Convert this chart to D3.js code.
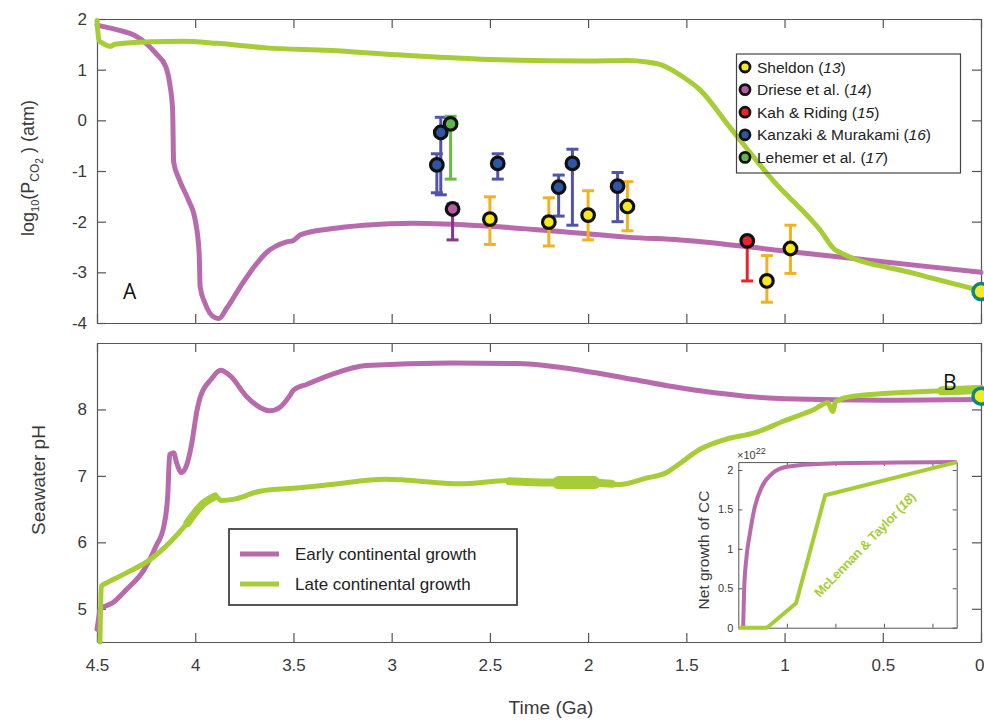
<!DOCTYPE html>
<html>
<head>
<meta charset="utf-8">
<script src="https://cdn.jsdelivr.net/npm/d3@7/dist/d3.min.js"></script>
<style>
  body { margin: 0; background: #fff; }
  svg text { font-family: "Liberation Sans", Arial, sans-serif; }
</style>
</head>
<body>
<svg id="chart" width="984" height="722"></svg>
<script>
// time in Ga, value
const pco2Early = [[4.5,1.88],[4.43,1.82],[4.38,1.77],[4.31,1.68],[4.25,1.52],[4.2,1.32],[4.15,1.06],[4.13,0.73],
  [4.115,0.2],[4.11,-0.82],[4.08,-1.18],[4.035,-1.57],[4.0,-1.97],[3.98,-2.62],[3.975,-3.28],[3.95,-3.61],
  [3.906,-3.88],[3.88,-3.91],[3.84,-3.71],[3.77,-3.28],[3.70,-2.89],[3.64,-2.62],[3.535,-2.40],[3.5,-2.37],
  [3.465,-2.26],[3.31,-2.14],[3.14,-2.07],[2.89,-2.03],[2.5,-2.09],[2.125,-2.2],[1.79,-2.31],[1.53,-2.36],
  [1.0,-2.58],[0.5,-2.79],[0,-3.0]]
const pco2Late = [[4.5,1.97],[4.49,1.58],[4.47,1.52],[4.43,1.46],[4.41,1.5],[4.23,1.55],[4.06,1.56],[3.89,1.52],
  [3.64,1.43],[3.31,1.38],[3.0,1.3],[2.5,1.2],[2.0,1.17],[1.8,1.18],[1.7,1.15],[1.63,1.1],[1.53,0.89],
  [1.43,0.6],[1.28,-0.13],[1.06,-1.18],[0.82,-2.16],[0.74,-2.56],[0.34,-3.02],[0,-3.36]]

const phEarly = [[4.5,4.69],[4.49,4.89],[4.485,4.99],[4.42,5.09],[4.35,5.29],[4.26,5.59],[4.2,5.94],[4.16,6.24],
  [4.14,6.7],[4.13,7.32],[4.11,7.35],[4.095,7.2],[4.07,7.05],[4.045,7.15],[4.02,7.45],[3.99,8.0],[3.975,8.18],
  [3.92,8.45],[3.87,8.59],[3.82,8.5],[3.74,8.2],[3.67,8.03],[3.62,7.98],[3.57,8.03],[3.52,8.2],[3.5,8.29],
  [3.43,8.38],[3.31,8.52],[3.13,8.66],[2.7,8.70],[2.36,8.69],[2.02,8.58],[1.77,8.45],[1.43,8.28],[1.2,8.2],
  [1.0,8.16],[0.5,8.14],[0,8.15]]
const phLate = [[4.485,4.5],[4.478,5.34],[4.45,5.39],[4.35,5.54],[4.23,5.74],[4.15,5.94],[4.04,6.29],[3.96,6.58],
  [3.89,6.68],[3.87,6.63],[3.8,6.65],[3.67,6.77],[3.47,6.82],[3.31,6.87],[3.03,6.95],[2.65,6.88],[2.41,6.93],
  [2.2,6.9],[2.0,6.9],[1.84,6.87],[1.7,6.97],[1.6,7.05],[1.55,7.15],[1.43,7.4],[1.3,7.55],[1.15,7.65],
  [1.0,7.83],[0.85,8.0],[0.78,8.1],[0.755,7.97],[0.74,8.12],[0.65,8.2],[0.2,8.28],[0,8.3]]
// parts of the late pH run where the line spreads into a band
const phLateBand1 = [[4.04,6.29],[3.96,6.58],[3.9,6.69]]
const phLateBand2 = [[2.4,6.92],[2.2,6.9],[2.0,6.9],[1.88,6.88]]
const phLateBand3 = [[2.15,6.9],[2.05,6.9],[1.97,6.9]]
const phLateBand4 = [[0.2,8.28],[0.1,8.29],[0,8.3]]

// proxy data: [time, value, low, high]
const sheldon = [[2.5,-1.95,-2.45,-1.51],[2.2,-2.01,-2.48,-1.53],[2.0,-1.87,-2.36,-1.39],[1.8,-1.70,-2.18,-1.21],
  [1.09,-3.17,-3.59,-2.67],[0.97,-2.53,-3.02,-2.07]]
const driese = [[2.69,-1.75,-2.36,-1.65]]
const kah = [[1.19,-2.38,-3.17,-2.38]]
const kanzaki = [[2.77,-0.88,-1.43,-0.66],[2.75,-0.24,-1.47,0.06],[2.46,-0.85,-1.16,-0.66],[2.15,-1.32,-1.89,-1.08],
  [2.08,-0.85,-2.07,-0.57],[1.85,-1.30,-2.0,-1.03]]
const lehemer = [[2.70,-0.07,-1.16,0.08]]
const presentPco2 = [0, -3.38]
const presentPh = [0, 8.2]

// inset: net growth of continental crust (x1e22)
const ccEarly = [[4.40,0],[4.38,0.48],[4.33,0.9],[4.26,1.2],[4.16,1.53],[4.02,1.78],[3.81,1.95],[3.5,2.04],[2.75,2.08],[0,2.1]]
const ccLate = [[4.5,0],[3.91,0],[3.31,0.31],[2.71,1.68],[0,2.1]]

const timeTicks = [4.5,4,3.5,3,2.5,2,1.5,1,0.5,0]
const pco2Ticks = [-4,-3,-2,-1,0,1,2]
const phTicks = [5,6,7,8]
const ccTicks = [0,0.5,1,1.5,2]

const PURPLE = '#b76aac', GREEN = '#a6cd37', AXIS = '#555', TXT = '#3a3a3a'

const svg = d3.select('#chart')
const x = d3.scaleLinear().domain([4.5, 0]).range([97, 981])
const yTop = d3.scaleLinear().domain([-4, 2]).range([323, 19])
const yBot = d3.scaleLinear().domain([4.5, 9]).range([642, 343])

function frame(y, yTicks, labels) {
  let g = svg.append('g')
  g.append('g').attr('transform', `translate(0,${y.range()[0]})`)
    .call(d3.axisBottom(x).tickValues(timeTicks).tickSize(-9).tickSizeOuter(0).tickPadding(17)
      .tickFormat(labels ? d => String(d) : ''))
  g.append('g').attr('transform', `translate(0,${y.range()[1]})`)
    .call(d3.axisTop(x).tickValues(timeTicks).tickSize(-9).tickSizeOuter(0).tickFormat(''))
  g.append('g').attr('transform', `translate(${x.range()[0]},0)`)
    .call(d3.axisLeft(y).tickValues(yTicks).tickSize(-9).tickSizeOuter(0).tickPadding(10).tickFormat(d => String(d)))
  g.append('g').attr('transform', `translate(${x.range()[1]},0)`)
    .call(d3.axisRight(y).tickValues(yTicks).tickSize(-9).tickSizeOuter(0).tickFormat(''))
  g.selectAll('.domain, .tick line').attr('stroke', AXIS).attr('stroke-width', 1.2)
  g.selectAll('.tick text').attr('fill', TXT).style('font-size', '17px')
  return g
}

frame(yTop, pco2Ticks, false)
let bottomFrame = frame(yBot, phTicks, true)
// keep the last time label inside the page
bottomFrame.selectAll('.tick text').filter(d => d === 0).attr('text-anchor', 'end').attr('dx', 3)

function line(y) {
  return d3.line().x(d => x(d[0])).y(d => y(d[1])).curve(d3.curveMonotoneX)
}
function path(data, y, color, w) {
  svg.append('path').datum(data).attr('d', line(y)).attr('fill', 'none')
    .attr('stroke', color).attr('stroke-width', w).attr('stroke-linejoin', 'round').attr('stroke-linecap', 'round')
}

path(pco2Early, yTop, PURPLE, 5)
path(pco2Late, yTop, GREEN, 5)
path(phEarly, yBot, PURPLE, 5)
path(phLate, yBot, GREEN, 5)
path(phLateBand1, yBot, GREEN, 8)
path(phLateBand2, yBot, GREEN, 8)
path(phLateBand3, yBot, GREEN, 13)
path(phLateBand4, yBot, GREEN, 9)

// error bars + markers
const sources = [
  {name: 'Sheldon', ref: '13', data: sheldon, fill: '#f7ea1a', bar: '#efb221'},
  {name: 'Driese et al.', ref: '14', data: driese, fill: '#b65ba6', bar: '#8a3493'},
  {name: 'Kah & Riding', ref: '15', data: kah, fill: '#e8232b', bar: '#e8232b'},
  {name: 'Kanzaki & Murakami', ref: '16', data: kanzaki, fill: '#2f55a5', bar: '#5255a6'},
  {name: 'Lehemer et al.', ref: '17', data: lehemer, fill: '#5cb848', bar: '#68bd45'}
]
const drawOrder = [sources[0], sources[3], sources[4], sources[1], sources[2]]

drawOrder.forEach(s => {
  let g = svg.append('g')
  s.data.forEach(d => {
    let cx = x(d[0])
    g.append('line').attr('x1', cx).attr('x2', cx).attr('y1', yTop(d[2])).attr('y2', yTop(d[3]))
      .attr('stroke', s.bar).attr('stroke-width', 3)
    ;[d[2], d[3]].forEach(v => {
      g.append('line').attr('x1', cx - 6).attr('x2', cx + 6).attr('y1', yTop(v)).attr('y2', yTop(v))
        .attr('stroke', s.bar).attr('stroke-width', 3)
    })
  })
})
drawOrder.forEach(s => {
  svg.append('g').selectAll('circle').data(s.data).enter().append('circle')
    .attr('cx', d => x(d[0])).attr('cy', d => yTop(d[1])).attr('r', 6.3)
    .attr('fill', s.fill).attr('stroke', '#111').attr('stroke-width', 3.2)
})

// present day markers
;[[presentPco2, yTop], [presentPh, yBot]].forEach(([p, y]) => {
  svg.append('circle').attr('cx', x(p[0])).attr('cy', y(p[1])).attr('r', 8)
    .attr('fill', '#f7ea1a').attr('stroke', '#11857c').attr('stroke-width', 3.5)
})

// legend for proxy data
let lg = svg.append('g')
lg.append('rect').attr('x', 736.5).attr('y', 54).attr('width', 224).attr('height', 119)
  .attr('fill', 'none').attr('stroke', '#444').attr('stroke-width', 1.2)
sources.forEach((s, i) => {
  let yy = 67 + i * 22.6
  lg.append('circle').attr('cx', 745).attr('cy', yy).attr('r', 5).attr('fill', s.fill)
    .attr('stroke', '#111').attr('stroke-width', 2.8)
  let t = lg.append('text').attr('x', 757).attr('y', yy + 5.5).attr('fill', '#222').style('font-size', '15.5px')
  t.append('tspan').text(s.name + ' (')
  t.append('tspan').style('font-style', 'italic').text(s.ref)
  t.append('tspan').text(')')
})

// legend for model runs
let lg2 = svg.append('g')
lg2.append('rect').attr('x', 229).attr('y', 529).attr('width', 288).attr('height', 76)
  .attr('fill', '#fff').attr('stroke', '#444').attr('stroke-width', 1.8)
;[['Early continental growth', PURPLE], ['Late continental growth', GREEN]].forEach((d, i) => {
  let yy = 554 + i * 30
  lg2.append('line').attr('x1', 240).attr('x2', 279).attr('y1', yy).attr('y2', yy)
    .attr('stroke', d[1]).attr('stroke-width', 5)
  lg2.append('text').attr('x', 295).attr('y', yy + 6).attr('fill', '#222').style('font-size', '17px').text(d[0])
})

// panel letters
svg.append('text').attr('x', 123).attr('y', 299).style('font-family', '"Open Sans", sans-serif')
  .style('font-size', '21px').attr('fill', '#111').text('A')
svg.append('text').attr('x', 943).attr('y', 390).style('font-family', '"Open Sans", sans-serif')
  .style('font-size', '21px').attr('fill', '#111').text('B')

// axis titles
let yt = svg.append('text').attr('transform', 'translate(34,168) rotate(-90)').attr('text-anchor', 'middle')
  .attr('fill', TXT).style('font-size', '18px')
yt.append('tspan').text('log')
yt.append('tspan').attr('dy', 5).style('font-size', '11px').text('10')
yt.append('tspan').attr('dy', -5).text('(P')
yt.append('tspan').attr('dy', 5).style('font-size', '12px').text('CO')
yt.append('tspan').attr('dy', 4).style('font-size', '10px').text('2')
yt.append('tspan').attr('dy', -9).text(' ) (atm)')

svg.append('text').attr('transform', 'translate(45,480) rotate(-90)').attr('text-anchor', 'middle')
  .attr('fill', TXT).style('font-size', '19px').text('Seawater pH')
svg.append('text').attr('x', 551).attr('y', 714).attr('text-anchor', 'middle')
  .attr('fill', TXT).style('font-size', '19px').text('Time (Ga)')

// inset
const xi = d3.scaleLinear().domain([4.5, 0]).range([738.3, 956.7])
const yi = d3.scaleLinear().domain([0, 2.1]).range([627.7, 462.1])
let ins = svg.append('g')
ins.append('rect').attr('x', 738.3).attr('y', 462.1).attr('width', 218.4).attr('height', 165.6).attr('fill', '#fff')
const insTicks = [3.5, 2.5, 1.5, 0.5]
ins.append('g').attr('transform', 'translate(0,627.7)')
  .call(d3.axisBottom(xi).tickValues(insTicks).tickSize(-4).tickSizeOuter(0).tickFormat(''))
ins.append('g').attr('transform', 'translate(0,462.1)')
  .call(d3.axisTop(xi).tickValues(insTicks).tickSize(-4).tickSizeOuter(0).tickFormat(''))
ins.append('g').attr('transform', 'translate(738.3,0)')
  .call(d3.axisLeft(yi).tickValues(ccTicks).tickSize(-4).tickSizeOuter(0).tickPadding(5).tickFormat(d => String(d)))
ins.append('g').attr('transform', 'translate(956.7,0)')
  .call(d3.axisRight(yi).tickValues(ccTicks).tickSize(-4).tickSizeOuter(0).tickFormat(''))
ins.selectAll('.domain, .tick line').attr('stroke', AXIS).attr('stroke-width', 1)
ins.selectAll('.tick text').attr('fill', TXT).style('font-size', '11px')

const lineI = d3.line().x(d => xi(d[0])).y(d => yi(d[1])).curve(d3.curveMonotoneX)
ins.append('path').datum(ccEarly).attr('d', lineI).attr('fill', 'none').attr('stroke', PURPLE).attr('stroke-width', 4)
ins.append('path').datum(ccLate).attr('d', d3.line().x(d => xi(d[0])).y(d => yi(d[1])))
  .attr('fill', 'none').attr('stroke', GREEN).attr('stroke-width', 4).attr('stroke-linejoin', 'round')

let ex = ins.append('text').attr('x', 737).attr('y', 459).attr('fill', TXT).style('font-size', '11px')
ex.append('tspan').text('×10')
ex.append('tspan').attr('dy', -5).style('font-size', '9px').text('22')

ins.append('text').attr('transform', 'translate(709,550) rotate(-90)').attr('text-anchor', 'middle')
  .attr('fill', TXT).style('font-size', '15.5px').text('Net growth of CC')

let mt = ins.append('text').attr('transform', 'translate(868,548) rotate(-46)').attr('text-anchor', 'middle')
  .attr('fill', GREEN).style('font-size', '13px').style('font-weight', 'bold').style('letter-spacing', '-0.3px')
mt.append('tspan').text('McLennan & Taylor (')
mt.append('tspan').style('font-style', 'italic').text('18')
mt.append('tspan').text(')')
</script>
</body>
</html>
